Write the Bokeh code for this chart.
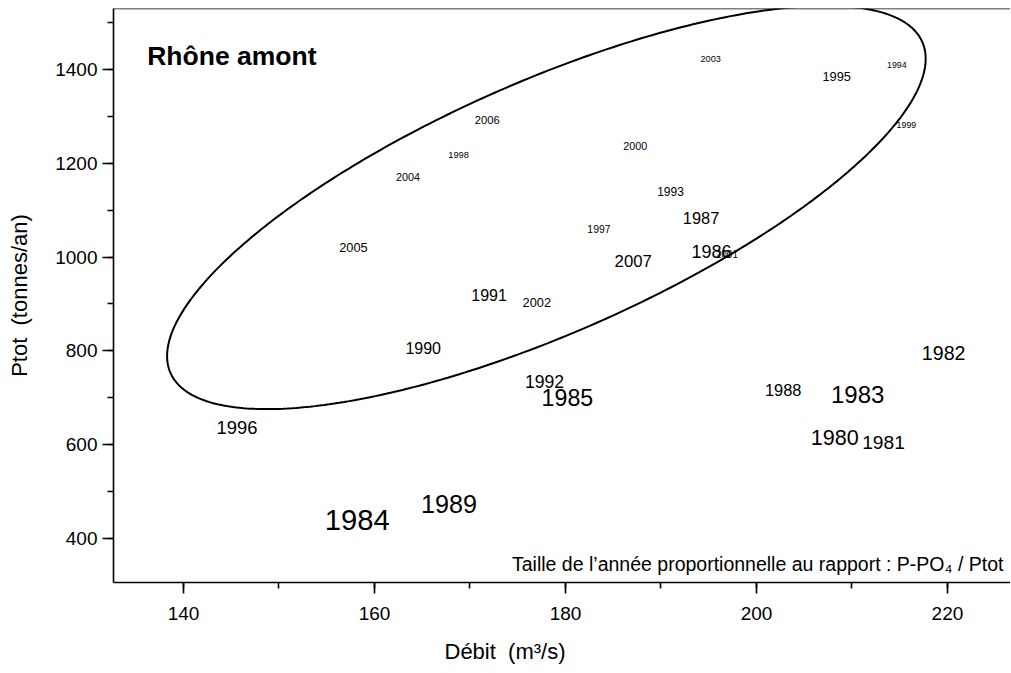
import numpy as np
from bokeh.plotting import figure
from bokeh.models import ColumnDataSource, SingleIntervalTicker, Span, Label, Range1d, Title
from bokeh.embed import file_html
from bokeh.resources import INLINE
from bokeh.core.properties import value

# ---- data ----
years = ["1980", "1981", "1982", "1983", "1984", "1985", "1986", "1987", "1988", "1989",
         "1990", "1991", "1992", "1993", "1994", "1995", "1996", "1997", "1998", "1999",
         "2000", "2001", "2002", "2003", "2004", "2005", "2006", "2007"]
debit = [208.2, 213.3, 219.6, 210.6, 158.2, 180.2, 195.3, 194.2, 202.8, 167.8,
         165.1, 172.0, 177.8, 191.0, 214.7, 208.4, 145.6, 183.5, 168.8, 215.7,
         187.3, 196.9, 177.0, 195.2, 163.5, 157.8, 171.8, 187.1]
ptot = [614, 604, 796, 706, 440, 700, 1013, 1083, 717, 474,
        806, 919, 734, 1139, 1411, 1386, 636, 1060, 1217, 1281,
        1237, 1006, 904, 1422, 1170, 1021, 1292, 992]
# P-PO4 / Ptot (relative), drives the label size
ratio = [0.54, 0.48, 0.49, 0.60, 0.73, 0.58, 0.45, 0.41, 0.41, 0.63,
         0.40, 0.40, 0.44, 0.30, 0.22, 0.32, 0.46, 0.26, 0.23, 0.22,
         0.27, 0.25, 0.32, 0.23, 0.27, 0.32, 0.28, 0.42]

x_ticks_interval = 20
y_ticks_interval = 200

x_title = "Débit\u00a0 (m³/s)"
y_title = "Ptot\u00a0 (tonnes/an)"
plot_title = "Rhône amont"
note = "Taille de l\u2019année proportionnelle au rapport : P-PO\u2084 / Ptot"

# ellipse enclosing the recent years (centre and conjugate semi-axes, data units)
ell_center = (178.0, 1106.0)
ell_u = (39.36, 353.3)
ell_v = (-5.32, 245.7)

FONT = "Liberation Sans"
SIZE_SCALE = 40.0  # px of font per unit of ratio

src = ColumnDataSource(dict(
    x=debit, y=ptot, label=years,
    fs=["%.1fpx" % (SIZE_SCALE * r) for r in ratio],
))

X0, X1 = 132.67, 226.6
Y0, Y1 = 305.6, 1530.6

p = figure(frame_width=897, frame_height=574,
           x_range=Range1d(X0, X1), y_range=Range1d(Y0, Y1),
           output_backend="svg", toolbar_location=None,
           min_border_left=113, min_border_right=0,
           min_border_top=8, min_border_bottom=91)
p.grid.visible = False
p.outline_line_color = None
p.background_fill_color = "white"
p.border_fill_color = "white"

p.xaxis.ticker = SingleIntervalTicker(interval=x_ticks_interval, num_minor_ticks=2)
p.yaxis.ticker = SingleIntervalTicker(interval=y_ticks_interval, num_minor_ticks=2)

for ax in (p.xaxis[0], p.yaxis[0]):
    ax.axis_line_width = 1.6
    ax.axis_line_color = "black"
    ax.major_tick_line_width = 1.6
    ax.minor_tick_line_width = 1.6
    ax.major_tick_line_color = "black"
    ax.minor_tick_line_color = "black"
    ax.major_tick_out = 11
    ax.major_tick_in = 0
    ax.minor_tick_out = 6
    ax.minor_tick_in = 0
    ax.major_label_text_font = FONT
    ax.major_label_text_font_size = "19px"
    ax.major_label_text_color = "black"

p.xaxis.major_label_standoff = 13
p.yaxis.major_label_standoff = 5

# y title as the axis label
p.yaxis.axis_label = y_title
p.yaxis.axis_label_text_font = FONT
p.yaxis.axis_label_text_font_size = "22px"
p.yaxis.axis_label_text_font_style = "normal"
p.yaxis.axis_label_text_color = "black"
p.yaxis.axis_label_standoff = 20

# x title as a Title annotation (off-centre, as in the reference)
p.add_layout(Title(text=x_title, align="left", offset=331, standoff=29,
                   vertical_align="bottom",
                   text_font=FONT, text_font_size="22px",
                   text_font_style="normal", text_color="black"), "below")

# top border of the frame
p.add_layout(Span(location=Y1, dimension="width", line_color="black", line_width=1.6))

# ellipse
t = np.linspace(0, 2 * np.pi, 400)
ex = ell_center[0] + ell_u[0] * np.cos(t) + ell_v[0] * np.sin(t)
ey = ell_center[1] + ell_u[1] * np.cos(t) + ell_v[1] * np.sin(t)
p.line(ex, ey, line_color="black", line_width=2)

# year labels
p.text(x="x", y="y", text="label", source=src, text_font=value(FONT),
       text_font_size="fs", text_align="center", text_baseline="middle",
       text_color="black")

p.add_layout(Label(x=136.2, y=1430.0, text=plot_title, text_font=FONT,
                   text_font_size="26.5px", text_font_style="bold",
                   text_baseline="alphabetic", text_color="black"))
p.add_layout(Label(x=225.86, y=345.0, text=note,
                   text_font=FONT, text_font_size="19.5px", text_align="right",
                   text_baseline="alphabetic", text_color="black"))

open("out.html", "w").write(file_html(p, INLINE))
